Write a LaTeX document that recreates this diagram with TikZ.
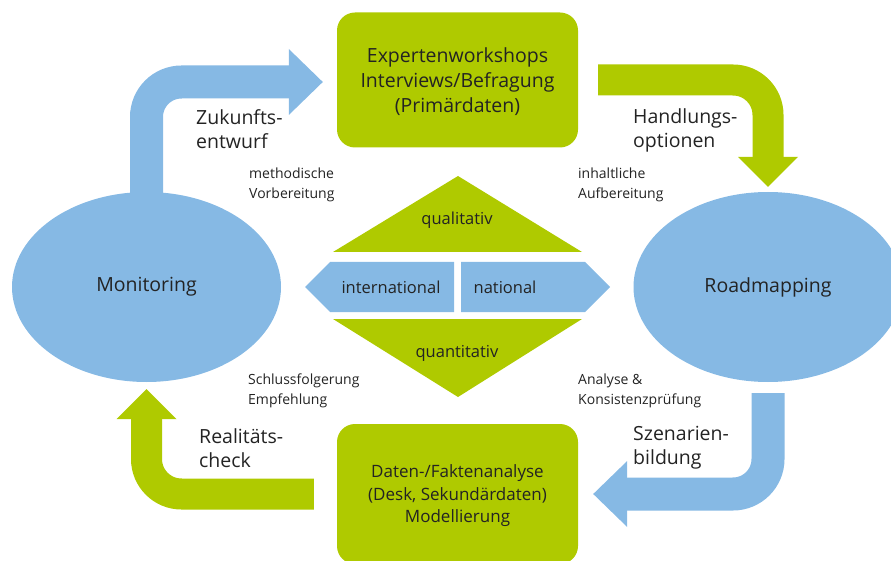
\documentclass[tikz,border=0pt]{standalone}
\usepackage{fontspec}
\setmainfont{Open Sans}
\usetikzlibrary{shapes.geometric,arrows.meta,positioning,backgrounds}
\definecolor{fhblue}{RGB}{134,185,228}
\definecolor{fhgreen}{RGB}{175,202,0}
\definecolor{fhtext}{RGB}{35,35,35}

\begin{document}
\begin{tikzpicture}[
        x=1pt, y=-1pt,
        box/.style={rectangle, rounded corners=18pt, fill=fhgreen, text=fhtext,
            minimum width=241pt, minimum height=#1, text depth=0pt,
            align=center, font=\fontsize{19.5}{25}\selectfont},
        phase/.style={ellipse, fill=fhblue, text=fhtext, inner sep=0pt,
            minimum width=269pt, minimum height=190pt,
            font=\fontsize{19.5}{22}\selectfont},
        biglabel/.style={anchor=west, align=left, inner sep=0pt, text=fhtext,
            font=\fontsize{19.5}{24}\selectfont},
        smalllabel/.style={anchor=west, align=left, inner sep=0pt, text=fhtext,
            font=\fontsize{14}{20}\selectfont},
        midlabel/.style={inner sep=0pt, text=fhtext, font=\fontsize{16.5}{18}\selectfont},
        bluearr/.style={draw=fhblue, line width=33pt, rounded corners=35pt,
            -{Triangle[width=66pt,length=34pt,line width=0pt]}},
        greenarr/.style={draw=fhgreen, line width=31pt, rounded corners=35pt,
            -{Triangle[width=60pt,length=30pt,line width=0pt]}}
    ]
        \useasboundingbox (0,0) rectangle (891,561);

        % phases and work packages
        \node[phase] (mon) at (146.5,287) {Monitoring};
        \node[phase] (road) at (768,287) {Roadmapping};
        \node[box=135pt] (expert) at (457.5,80) {Expertenworkshops\\Interviews/Befragung\\(Primärdaten)};
        \node[box=140pt, font=\fontsize{17}{22.5}\selectfont] (daten) at (457.5,494) {Daten-/Faktenanalyse\\(Desk, Sekundärdaten)\\Modellierung};

        % cycle arrows
        \begin{pgfonlayer}{background}
            \draw[bluearr] ([yshift=-30pt]mon.north) |- ([xshift=-14pt,yshift=-2pt]expert.west);
            \draw[greenarr] ([xshift=20pt]expert.east) -| ([yshift=5pt]road.north);
            \draw[bluearr] ([yshift=-11pt]road.south) |- ([xshift=15pt]daten.east);
            \draw[greenarr] ([xshift=-23pt]daten.west) -| ([yshift=-7pt]mon.south);
        \end{pgfonlayer}

        % centre
        \fill[fhgreen] (333,252) -- (458,176) -- (582,252) -- cycle;
        \fill[fhgreen] (333,319) -- (582,319) -- (458,397) -- cycle;
        \fill[fhblue] (305,287) -- (330,262) -- (454,262) -- (454,312) -- (330,312) -- cycle;
        \fill[fhblue] (461,262) -- (585,262) -- (610,287) -- (585,312) -- (461,312) -- cycle;
        \node[midlabel] (quali) at (457,220) {qualitativ};
        \node[midlabel] (quanti) at (457,353) {quantitativ};
        \node[midlabel] (inter) at (391,287) {international};
        \node[midlabel] (nat) at (505,287) {national};

        % arrow labels
        \node[biglabel] (zuk) at (196,129) {Zukunfts-\\entwurf};
        \node[biglabel] (hand) at (633,130) {Handlungs-\\optionen};
        \node[biglabel] (real) at (199,448) {Realitäts-\\check};
        \node[biglabel] (szen) at (633,448) {Szenarien-\\bildung};

        \node[smalllabel] (meth) at (249,185) {methodische\\Vorbereitung};
        \node[smalllabel] (inh) at (578,185) {inhaltliche\\Aufbereitung};
        \node[smalllabel] (schl) at (248,391) {Schlussfolgerung\\Empfehlung};
        \node[smalllabel] (ana) at (578,391) {Analyse \&\\Konsistenzprüfung};
    \end{tikzpicture}
\end{document}
